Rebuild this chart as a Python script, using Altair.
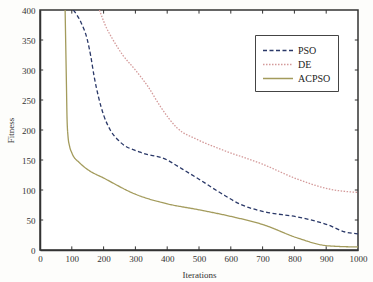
import altair as alt
import pandas as pd

pso_x = [105, 130, 148, 160, 170, 184, 200, 221, 252, 315, 400, 441, 500, 568, 631, 703, 810, 905, 960, 1000]
pso_y = [400, 378, 352, 322, 290, 255, 225, 200, 180, 163, 150, 137, 118, 95, 76, 64, 55, 42, 30, 27]

de_x = [187, 205, 230, 260, 300, 340, 380, 430, 495, 568, 700, 810, 915, 1000]
de_y = [400, 375, 350, 325, 300, 272, 238, 204, 184, 168, 143, 118, 101, 96]

ac_x = [79, 81, 83, 85, 88, 93, 100, 125, 150, 200, 300, 400, 500, 600, 703, 810, 905, 1000]
ac_y = [400, 340, 280, 220, 190, 173, 162, 145, 134, 120, 93, 77, 67, 56, 42, 20, 7, 5]

series = ["PSO", "DE", "ACPSO"]
colors = ["#2a3868", "#d49a9a", "#a39b5c"]
dashes = [[4, 2.5], [1.5, 1.5], [1, 0]]

x_ticks = [0, 100, 200, 300, 400, 500, 600, 700, 800, 900, 1000]
y_ticks = [0, 50, 100, 150, 200, 250, 300, 350, 400]

rows = []
for name, xs, ys in [("PSO", pso_x, pso_y), ("DE", de_x, de_y), ("ACPSO", ac_x, ac_y)]:
    for i, (a, b) in enumerate(zip(xs, ys)):
        rows.append({"Iterations": a, "Fitness": b, "Algorithm": name, "order": i})
df = pd.DataFrame(rows)

font = "Liberation Serif"

x_scale = alt.Scale(domain=[0, 1000], nice=False, zero=False)
y_scale = alt.Scale(domain=[0, 400], nice=False, zero=False)

legend_kw = dict(title=None, orient="none", legendX=215, legendY=25,
                 symbolType="M-1,0H3", symbolSize=225, symbolStrokeWidth=1.3,
                 labelFont=font, labelFontSize=10, labelColor="#222",
                 rowPadding=0, padding=7, strokeColor="#444",
                 fillColor="white", labelOffset=19)

x_axis = alt.Axis(values=x_ticks, title="Iterations", grid=False, ticks=False,
                  labelPadding=4, titlePadding=7, format="d",
                  labelOverlap=False, labelFlush=False)
y_axis = alt.Axis(values=y_ticks, title="Fitness", grid=False, ticks=False,
                  labelPadding=5, titlePadding=6, format="d",
                  labelOverlap=False, labelFlush=False)

lines = alt.Chart(df).mark_line(interpolate="monotone", strokeWidth=1.3, clip=True).encode(
    x=alt.X("Iterations:Q", scale=x_scale, axis=x_axis),
    y=alt.Y("Fitness:Q", scale=y_scale, axis=y_axis),
    color=alt.Color("Algorithm:N", scale=alt.Scale(domain=series, range=colors),
                    legend=alt.Legend(**legend_kw)),
    strokeDash=alt.StrokeDash("Algorithm:N", scale=alt.Scale(domain=series, range=dashes),
                              legend=alt.Legend(**legend_kw)),
    order="order:Q",
)

xt = pd.DataFrame({"v": x_ticks[1:-1]})
yt = pd.DataFrame({"v": y_ticks[1:-1]})

bottom_ticks = alt.Chart(xt).mark_rule(color="#333", strokeWidth=1).encode(
    x=alt.X("v:Q", scale=x_scale, axis=x_axis),
    y=alt.YDatum(0, scale=y_scale, axis=y_axis), y2=alt.datum(6))
top_ticks = alt.Chart(xt).mark_rule(color="#333", strokeWidth=1).encode(
    x=alt.X("v:Q", scale=x_scale, axis=x_axis),
    y=alt.YDatum(394, scale=y_scale, axis=y_axis), y2=alt.datum(400))
left_ticks = alt.Chart(yt).mark_rule(color="#333", strokeWidth=1).encode(
    y=alt.Y("v:Q", scale=y_scale, axis=y_axis),
    x=alt.XDatum(0, scale=x_scale, axis=x_axis), x2=alt.datum(10))
right_ticks = alt.Chart(yt).mark_rule(color="#333", strokeWidth=1).encode(
    y=alt.Y("v:Q", scale=y_scale, axis=y_axis),
    x=alt.XDatum(990, scale=x_scale, axis=x_axis), x2=alt.datum(1000))

chart = alt.layer(lines, bottom_ticks, top_ticks, left_ticks, right_ticks).properties(
    width=318, height=240,
    autosize=alt.AutoSizeParams(type="none"),
    padding={"left": 40, "top": 10, "right": 15, "bottom": 32},
    background="#fdfdfb",
).configure_view(
    stroke="#333", strokeWidth=1.5, fill="white"
).configure_axis(
    labelFont=font, labelFontSize=9, labelColor="#333",
    titleFont=font, titleFontSize=9, titleColor="#333", titleFontWeight="normal",
    domainColor="#333", domainWidth=1.5,
)

chart.save("out.html", embed_options={"renderer": "svg", "actions": False})
